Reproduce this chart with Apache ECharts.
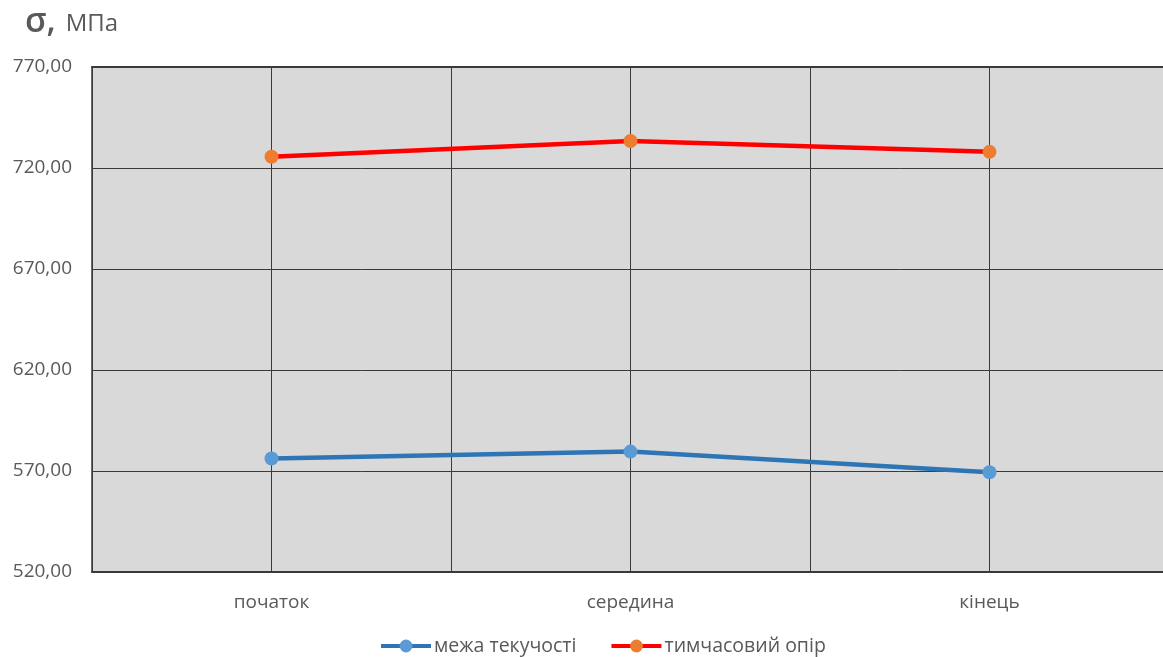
<!DOCTYPE html>
<html>
<head>
<meta charset="utf-8">
<script src="https://cdn.jsdelivr.net/npm/echarts@6/dist/echarts.min.js"></script>
<style>
  html, body { margin: 0; padding: 0; background: #fff; overflow: hidden; width: 1163px; height: 657px; }
  /* the plot runs slightly past the right edge of the view */
  #chart { width: 1180px; height: 657px; }
</style>
</head>
<body>
<div id="chart"></div>
<script>
// Positions along the sample
const categories = ['початок', 'середина', 'кінець'];
// Yield strength, MPa
const yieldStrength = [576.2, 579.6, 569.4];
// Ultimate tensile strength, MPa
const tensileStrength = [725.6, 733.4, 728.0];
const seriesNames = ['межа текучості', 'тимчасовий опір'];
const yMin = 520, yMax = 770, yStep = 50;

const FONT = "'Open Sans', 'Noto Sans', sans-serif";
const TEXT = '#595959';
const GRID_LINE = '#3a3a3a';
const FRAME = { show: true, onZero: false, lineStyle: { color: '#3a3a3a', width: 2 } };

const chart = echarts.init(document.getElementById('chart'));
chart.setOption({
  backgroundColor: '#ffffff',
  animation: false,
  title: {
    left: 20, top: 0,
    text: '{s|σ,}  {u|МПа}',
    textStyle: {
      rich: {
        s: { fontFamily: FONT, fontSize: 34, color: TEXT, fontWeight: 600 },
        u: { fontFamily: FONT, fontSize: 24, color: TEXT, fontWeight: 'normal', padding: [4, 0, 0, 0] }
      }
    }
  },
  legend: {
    top: 631, left: 374,
    itemWidth: 50, itemHeight: 16, itemGap: 33,
    lineStyle: { width: 4 },
    textStyle: { fontFamily: FONT, fontSize: 19.5, color: TEXT, padding: [0, 0, 0, -2] },
    data: seriesNames
  },
  grid: {
    left: 92, top: 67, width: 1077, height: 505,
    show: true, backgroundColor: '#d9d9d9', borderWidth: 0
  },
  xAxis: [
    {
      type: 'category', data: categories, boundaryGap: true,
      position: 'bottom',
      axisLine: FRAME, axisTick: { show: false },
      axisLabel: { fontFamily: FONT, fontSize: 19, color: TEXT, margin: 21 },
      splitLine: { show: false }
    },
    {
      // half-band grid: lines at each band edge and each category centre
      type: 'category', data: ['', '', '', '', '', ''], boundaryGap: true,
      position: 'top',
      axisLine: FRAME, axisTick: { show: false }, axisLabel: { show: false },
      splitLine: { show: true, lineStyle: { color: GRID_LINE, width: 1 } }
    }
  ],
  yAxis: {
    type: 'value', min: yMin, max: yMax, interval: yStep,
    axisLine: { show: true, lineStyle: { color: '#3a3a3a', width: 1.5 } },
    axisTick: { show: false },
    axisLabel: {
      fontFamily: FONT, fontSize: 19, color: TEXT, margin: 20,
      formatter: v => v.toFixed(2).replace('.', ',')
    },
    splitLine: { show: true, lineStyle: { color: GRID_LINE, width: 1 } }
  },
  series: [
    {
      name: seriesNames[0], type: 'line', data: yieldStrength,
      symbol: 'circle', symbolSize: 14,
      lineStyle: { color: '#2e75b6', width: 4.5 },
      itemStyle: { color: '#5b9bd5' }
    },
    {
      name: seriesNames[1], type: 'line', data: tensileStrength,
      symbol: 'circle', symbolSize: 14,
      lineStyle: { color: '#ff0000', width: 4.5 },
      itemStyle: { color: '#ed7d31' }
    }
  ]
});
</script>
</body>
</html>
